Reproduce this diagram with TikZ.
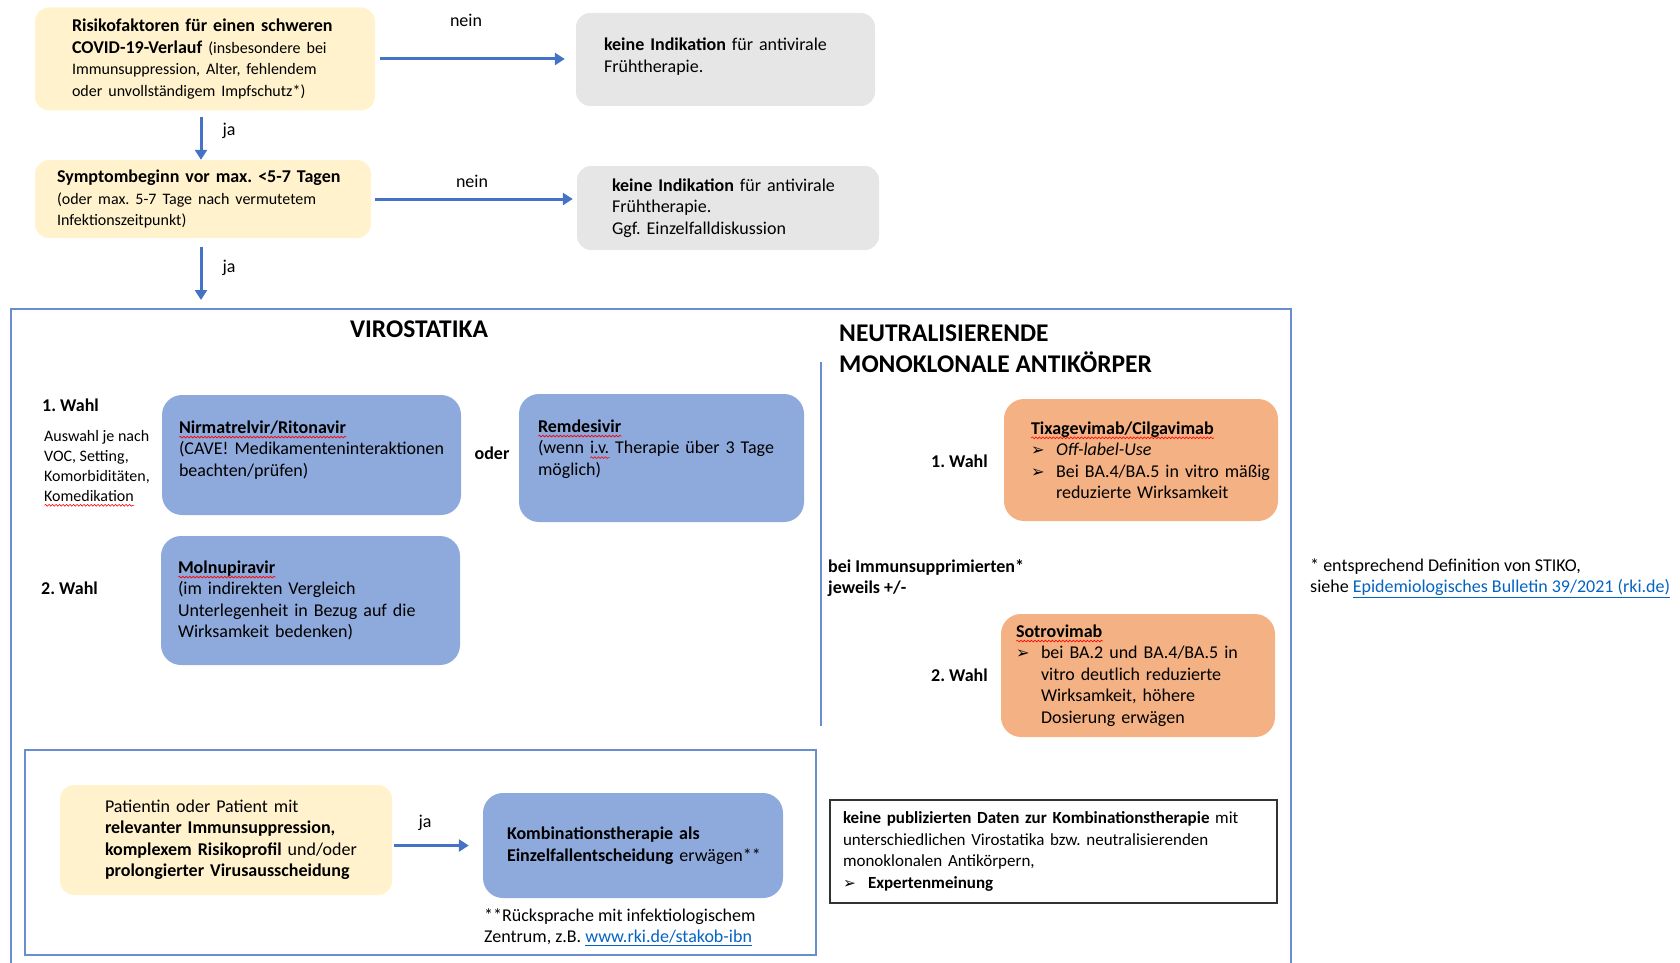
\documentclass[tikz,border=0pt]{standalone}
\usepackage{fontspec}
\setmainfont{Carlito}
\newfontfamily\symfont[Scale=0.9]{DejaVu Sans}
\usetikzlibrary{arrows.meta,positioning,decorations.pathmorphing}

\definecolor{riskfill}{HTML}{FFF2CC}
\definecolor{nofill}{HTML}{E6E6E6}
\definecolor{virofill}{HTML}{8EA9DB}
\definecolor{mabfill}{HTML}{F4B183}
\definecolor{flowblue}{HTML}{4472C4}
\definecolor{linkblue}{HTML}{0563C1}

\hyphenpenalty=10000
\exhyphenpenalty=10000
\frenchspacing

\newcommand\fhead{\fontsize{25.5}{31}\selectfont}
\newcommand\fmid{\fontsize{18}{21.5}\selectfont}
\newcommand\fsmall{\fontsize{16}{20}\selectfont}
\newcommand\fnote{\fontsize{17}{21.5}\selectfont}
\newlength\tipw \setlength\tipw{25pt}
\newlength\squiglen
\newcommand\tip{\makebox[\tipw][l]{\symfont ➢}}
\newcommand\squig[1]{\settowidth\squiglen{#1}%
  \rlap{\raisebox{-5pt}[0pt][0pt]{\tikz\draw[sharp corners,red,line width=0.6pt,decorate,
    decoration={snake,amplitude=0.9pt,segment length=3.5pt}] (0,0) -- (\squiglen,0);}}#1}
\newcommand\weblink[1]{\textcolor{linkblue}{\underline{#1}}}
\newcommand\lift[1]{\rule[-#1]{0pt}{0pt}}

\begin{document}
\begin{tikzpicture}[x=1pt,y=-1pt,
  riskbox/.style={fill=riskfill,rounded corners=14pt,align=left,font=\fmid},
  nobox/.style={fill=nofill,rounded corners=14pt,align=left,font=\fmid},
  virobox/.style={fill=virofill,rounded corners=20pt,align=left,font=\fmid},
  mabbox/.style={fill=mabfill,rounded corners=20pt,align=left,font=\fmid},
  notebox/.style={draw=black!80,line width=1.2pt,align=left,font=\fnote},
  flow/.style={draw=flowblue,line width=3pt,-{Triangle[length=10pt,width=12pt]}},
  frame/.style={draw=flowblue!80,line width=1.3pt},
  lab/.style={font=\fmid,inner sep=0pt}]
\useasboundingbox (0,0) rectangle (1680,963);

% Eingangsfragen
\node[riskbox,minimum width=340pt,minimum height=103pt,text width=266pt,inner xsep=37pt] (risk) at (205,59)
  {\textbf{Risikofaktoren für einen schweren}\\
   \textbf{COVID-19-Verlauf} {\fsmall(insbesondere bei}\\
   {\fsmall Immunsuppression, Alter, fehlendem}\\
   {\fsmall oder unvollständigem Impfschutz*)}};
\node[nobox,minimum width=299pt,minimum height=93pt,text width=243pt,inner xsep=28pt] (none1) at (725.5,59.5)
  {\textbf{keine Indikation} für antivirale\\Frühtherapie.\lift{9pt}};
\node[riskbox,minimum width=336pt,minimum height=78pt,text width=292pt,inner xsep=22pt] (onset) at (203,199)
  {\textbf{Symptombeginn vor max. <5-7 Tagen}\\
   {\fsmall(oder max. 5-7 Tage nach vermutetem}\\
   {\fsmall Infektionszeitpunkt)}};
\node[nobox,minimum width=302pt,minimum height=84pt,text width=232pt,inner xsep=35pt] (none2) at (728,208)
  {\textbf{keine Indikation} für antivirale\\Frühtherapie.\\Ggf. Einzelfalldiskussion};

\draw[flow] ([xshift=5pt]risk.east) -- ([xshift=-11pt]risk.east -| none1.west);
\node[lab] (nein1) at (466,20) {nein};
\draw[flow] ([xshift=-4pt,yshift=-6pt]risk.south) -- ([xshift=-4pt]risk.south |- onset.north);
\node[lab] (ja1) at (229,131) {ja};
\draw[flow] ([xshift=4pt]onset.east) -- ([xshift=-4pt]onset.east -| none2.west);
\node[lab] (nein2) at (472,181) {nein};
\coordinate (entry) at (201,300);
\draw[flow] ([xshift=-2pt,yshift=-9pt]onset.south) -- (entry);
\node[lab] (ja2) at (229,268) {ja};

% Rahmen
\draw[frame] (11,963) -- (11,309) -- (1291,309) -- (1291,963);
\draw[frame] (821,362) -- (821,726);
\node[lab,font=\bfseries\fhead] (virotitle) at (419,329) {VIROSTATIKA};
\node[lab,font=\bfseries\fhead,align=left,anchor=west] (mabtitle) at (839,348.5)
  {NEUTRALISIERENDE\\MONOKLONALE ANTIKÖRPER};

% Virostatika
\node[lab,font=\bfseries\fmid,anchor=west] (wahl1) at (42,405) {1. Wahl};
\node[lab,font=\fsmall,align=left,anchor=west] (auswahl) at (44,466)
  {Auswahl je nach\\VOC, Setting,\\Komorbiditäten,\\\squig{Komedikation}};
\node[lab,font=\bfseries\fmid,anchor=west] (wahl2) at (41,588) {2. Wahl};
\node[virobox,minimum width=299pt,minimum height=120pt,text width=265pt,inner xsep=17pt] (nirma) at (311.5,455)
  {\textbf{\squig{Nirmatrelvir/Ritonavir}}\\(CAVE!~Medikamenteninteraktionen\\beachten/prüfen)\lift{13pt}};
\node[lab,font=\bfseries\fmid] (oder) at (492,453) {oder};
\node[virobox,minimum width=285pt,minimum height=128pt,text width=247pt,inner xsep=19pt] (remde) at (661.5,458)
  {\textbf{\squig{Remdesivir}}\\(wenn~\squig{i.v.}~Therapie~über~3~Tage\\möglich)\lift{21pt}};
\node[virobox,minimum width=299pt,minimum height=129pt,text width=265pt,inner xsep=17pt] (molnu) at (310.5,600.5)
  {\textbf{\squig{Molnupiravir}}\\(im indirekten Vergleich\\Unterlegenheit in Bezug auf die\\Wirksamkeit bedenken)};

% Antikoerper
\node[mabbox,minimum width=274pt,minimum height=122pt,text width=220pt,inner xsep=27pt] (tixa) at (1141,460)
  {\textbf{\squig{Tixagevimab/Cilgavimab}}\\
   \tip\textit{Off-label-Use}\\
   \tip Bei~BA.4/BA.5~in~vitro~mäßig\\
   \hspace*{\tipw}reduzierte Wirksamkeit};
\node[lab,font=\bfseries\fmid,anchor=east] (mab1) at (988,461) {1. Wahl};
\node[lab,font=\bfseries\fmid,align=left,anchor=west] (immun) at (828,578)
  {bei Immunsupprimierten*\\jeweils +/-};
\node[mabbox,minimum width=274pt,minimum height=123pt,text width=244pt,inner xsep=15pt] (sotro) at (1138,675.5)
  {\textbf{\squig{Sotrovimab}}\\
   \tip bei BA.2 und BA.4/BA.5 in\\
   \hspace*{\tipw}vitro deutlich reduzierte\\
   \hspace*{\tipw}Wirksamkeit, höhere\\
   \hspace*{\tipw}Dosierung erwägen};
\node[lab,font=\bfseries\fmid,anchor=east] (mab2) at (988,675) {2. Wahl};
\node[lab,align=left,anchor=west] (stiko) at (1310,578)
  {* entsprechend Definition von STIKO,\\siehe \weblink{Epidemiologisches Bulletin 39/2021 (rki.de)}};

% Kombination
\draw[frame] (25,750) rectangle (816,955);
\node[riskbox,minimum width=332pt,minimum height=110pt,text width=242pt,inner xsep=45pt] (patient) at (226,840)
  {Patientin oder Patient mit\\
   \textbf{relevanter Immunsuppression,}\\
   \textbf{komplexem~Risikoprofil}~und/oder\\
   \textbf{prolongierter~Virusausscheidung}};
\node[virobox,minimum width=300pt,minimum height=105pt,text width=252pt,inner xsep=24pt] (kombi) at (633,845.5)
  {\textbf{Kombinationstherapie als}\\\textbf{Einzelfallentscheidung}~erwägen**};
\draw[flow] ([xshift=2pt]patient.east |- kombi.west) -- ([xshift=-14pt]kombi.west);
\node[lab] (ja3) at (425,823) {ja};
\node[lab,align=left,anchor=west] (ruecksprache) at (484,927)
  {**Rücksprache mit infektiologischem\\Zentrum, z.B. \weblink{www.rki.de/stakob-ibn}};
\node[notebox,minimum width=447pt,minimum height=103pt,text width=421pt,inner xsep=13pt] (nodata) at (1053.5,851.5)
  {\mbox{\textbf{keine publizierten Daten zur Kombinationstherapie} mit}\\
   unterschiedlichen Virostatika bzw. neutralisierenden\\
   monoklonalen Antikörpern,\\
   \tip\textbf{Expertenmeinung}};
\end{tikzpicture}
\end{document}
